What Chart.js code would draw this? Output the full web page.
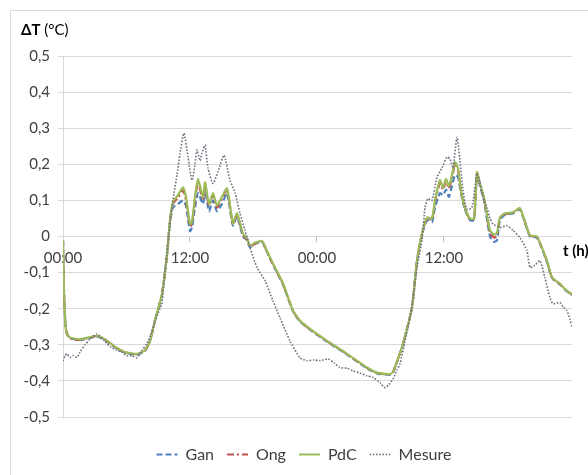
<!DOCTYPE html>
<html>
<head>
<meta charset="utf-8">
<script src="https://cdn.jsdelivr.net/npm/chart.js@4"></script>
<style>
  html, body { margin: 0; padding: 0; background: #fff; overflow: hidden; }
  #frame { position: absolute; left: 10px; top: 10px; width: 640px; height: 540px; border: 1px solid #d9d9d9; }
  #wrap { position: absolute; left: 0; top: 0; width: 588px; height: 475px; }
</style>
</head>
<body>
<div id="frame"></div>
<div id="wrap"><canvas id="dtChart"></canvas></div>
<script>
// time in hours from the first 00:00
const tModel = [0, 0.09, 0.24, 0.38, 0.66, 1.13, 1.61, 2.36, 3.21, 3.97,
  4.91, 5.86, 6.99, 7.75, 8.22, 8.69, 9.35, 9.83, 10.11, 10.39,
  10.87, 11.34, 11.62, 12.00, 12.19, 12.47, 12.76, 13.23, 13.42, 13.80,
  14.17, 14.55, 15.02, 15.50, 16.06, 16.44, 17.01, 17.39, 17.67, 18.14,
  18.80, 19.28, 19.84, 20.79, 21.73, 22.39, 23.34, 24.95, 26.84, 28.72,
  29.67, 30.90, 31.18, 31.65, 32.13, 32.98, 33.45, 33.92, 34.40, 34.87,
  35.15, 35.62, 35.91, 36.19, 36.47, 36.76, 37.04, 37.32, 37.61, 37.98,
  38.46, 38.84, 39.12, 39.40, 39.78, 40.35, 40.73, 41.01, 41.29, 41.76,
  42.52, 43.18, 44.13, 44.79, 45.73, 46.21, 46.96, 47.53, 48.10];

const gan = [-0.01, -0.15, -0.25, -0.27, -0.28, -0.285, -0.287, -0.282, -0.277, -0.287,
  -0.307, -0.322, -0.327, -0.317, -0.29, -0.233, -0.16, -0.05, 0.04, 0.08,
  0.09, 0.10, 0.085, 0.015, 0.025, 0.08, 0.12, 0.09, 0.13, 0.07,
  0.10, 0.07, 0.09, 0.12, 0.03, 0.055, 0.0, -0.01, -0.03, -0.02,
  -0.015, -0.043, -0.078, -0.133, -0.207, -0.235, -0.258, -0.291, -0.327, -0.365,
  -0.379, -0.383, -0.377, -0.34, -0.297, -0.197, -0.067, 0.005, 0.045, 0.04,
  0.08, 0.12, 0.115, 0.13, 0.11, 0.14, 0.17, 0.165, 0.12, 0.075,
  0.045, 0.045, 0.165, 0.14, 0.1, 0.0, -0.015, -0.01, 0.045, 0.06,
  0.064, 0.075, 0.0, -0.003, -0.07, -0.115, -0.133, -0.15, -0.162];

const ong = [-0.01, -0.15, -0.25, -0.27, -0.282, -0.286, -0.286, -0.281, -0.276, -0.286,
  -0.306, -0.321, -0.326, -0.316, -0.29, -0.233, -0.16, -0.05, 0.043, 0.09,
  0.108, 0.128, 0.1, 0.028, 0.035, 0.1, 0.15, 0.1, 0.145, 0.085,
  0.115, 0.08, 0.105, 0.13, 0.034, 0.06, 0.005, -0.008, -0.028, -0.02,
  -0.014, -0.042, -0.077, -0.132, -0.206, -0.234, -0.257, -0.29, -0.326, -0.364,
  -0.378, -0.382, -0.376, -0.34, -0.297, -0.197, -0.067, 0.007, 0.05, 0.047,
  0.095, 0.148, 0.13, 0.153, 0.133, 0.163, 0.2, 0.185, 0.125, 0.078,
  0.048, 0.048, 0.175, 0.145, 0.105, 0.01, -0.003, 0.003, 0.05, 0.062,
  0.066, 0.077, 0.002, -0.001, -0.068, -0.114, -0.132, -0.149, -0.161];

const pdc = [-0.01, -0.15, -0.25, -0.27, -0.28, -0.283, -0.285, -0.28, -0.275, -0.285,
  -0.305, -0.32, -0.325, -0.315, -0.29, -0.233, -0.16, -0.05, 0.045, 0.095,
  0.115, 0.136, 0.11, 0.035, 0.04, 0.11, 0.16, 0.108, 0.15, 0.09,
  0.12, 0.086, 0.11, 0.133, 0.036, 0.064, 0.008, -0.005, -0.025, -0.017,
  -0.012, -0.04, -0.075, -0.13, -0.205, -0.233, -0.256, -0.289, -0.325, -0.363,
  -0.377, -0.381, -0.375, -0.34, -0.297, -0.197, -0.067, 0.008, 0.053, 0.05,
  0.1, 0.156, 0.135, 0.16, 0.14, 0.17, 0.206, 0.19, 0.128, 0.08,
  0.05, 0.05, 0.178, 0.147, 0.108, 0.017, 0.005, 0.01, 0.053, 0.064,
  0.067, 0.078, 0.003, 0.0, -0.067, -0.113, -0.131, -0.148, -0.16];

const tMesure = [0, 0.19, 0.38, 0.66, 0.94, 1.32, 1.61, 2.08, 2.55, 3.21,
  3.78, 4.44, 5.10, 5.57, 6.05, 6.52, 6.99, 7.46, 7.94, 8.32,
  8.69, 9.16, 9.35, 9.64, 9.92, 10.20, 10.49, 10.77, 11.06, 11.43,
  11.81, 12.19, 12.47, 12.66, 12.95, 13.13, 13.42, 13.70, 14.17, 14.65,
  15.21, 15.78, 16.25, 16.73, 17.20, 17.67, 18.33, 19.09, 19.84, 20.50,
  21.45, 22.39, 23.06, 23.72, 24.28, 25.04, 25.61, 26.17, 26.84, 27.40,
  28.06, 28.72, 29.29, 29.95, 30.43, 30.80, 31.18, 31.56, 31.84, 32.32,
  32.79, 33.17, 33.45, 33.92, 34.21, 34.49, 34.87, 35.34, 35.81, 36.28,
  36.57, 36.85, 37.23, 37.51, 37.80, 38.17, 38.65, 39.12, 39.40, 39.69,
  40.06, 40.35, 40.63, 41.29, 41.95, 42.52, 43.18, 43.84, 44.13, 44.60,
  45.07, 45.54, 46.02, 46.30, 46.96, 47.25, 47.63, 47.91, 48.10];

const mesure = [-0.345, -0.33, -0.325, -0.335, -0.33, -0.335, -0.32, -0.30, -0.285, -0.27,
  -0.285, -0.305, -0.315, -0.32, -0.33, -0.33, -0.336, -0.315, -0.297, -0.27,
  -0.235, -0.20, -0.186, -0.094, -0.02, 0.06, 0.12, 0.17, 0.23, 0.286,
  0.22, 0.156, 0.20, 0.24, 0.21, 0.23, 0.253, 0.19, 0.147, 0.18,
  0.225, 0.156, 0.122, 0.064, 0.017, -0.03, -0.086, -0.122, -0.178, -0.225,
  -0.289, -0.336, -0.344, -0.342, -0.344, -0.339, -0.35, -0.363, -0.365, -0.372,
  -0.378, -0.386, -0.39, -0.405, -0.419, -0.41, -0.395, -0.37, -0.353, -0.29,
  -0.225, -0.15, -0.086, -0.011, 0.08, 0.105, 0.10, 0.164, 0.19, 0.22,
  0.215, 0.19, 0.275, 0.21, 0.128, 0.075, 0.08, 0.175, 0.15, 0.11,
  0.08, 0.05, 0.035, 0.025, 0.03, 0.017, -0.003, -0.039, -0.086, -0.08,
  -0.067, -0.114, -0.17, -0.186, -0.183, -0.195, -0.206, -0.23, -0.25];

const xTickValues = [0, 12, 24, 36];
const xTickLabels = ['00:00', '12:00', '00:00', '12:00'];

const pts = (ts, vs) => ts.map((t, i) => ({ x: t, y: vs[i] }));

const FONT = 'Lato';
const TXT = '#404040';

// axis titles, Excel-style: "ΔT (°C)" top-left, "t (h)" at the right end of the 0 line
const axisTitles = {
  id: 'axisTitles',
  afterLayout(chart) {
    // the original legend is centred on a wider frame than the visible crop
    chart.legend.left += 18;
    chart.legend.right += 18;
  },
  afterDraw(chart) {
    const { ctx, chartArea, scales } = chart;
    ctx.save();
    ctx.fillStyle = '#000';
    ctx.textBaseline = 'alphabetic';
    ctx.textAlign = 'left';
    const x0 = chartArea.left - 42, y0 = chartArea.top - 21;
    ctx.font = 'bold 15px ' + FONT;
    ctx.fillText('ΔT', x0, y0);
    const w = ctx.measureText('ΔT').width;
    ctx.font = '15px ' + FONT;
    ctx.fillText(' (°C)', x0 + w, y0);
    ctx.font = 'bold 15px ' + FONT;
    ctx.fillText('t (h)', chartArea.right - 9, scales.y.getPixelForValue(0) + 19);
    ctx.restore();
  }
};

new Chart(document.getElementById('dtChart'), {
  type: 'line',
  data: {
    datasets: [
      { label: 'Gan', data: pts(tModel, gan), borderColor: '#4f81bd', borderWidth: 2.2, borderDash: [6, 3], order: 4 },
      { label: 'Ong', data: pts(tModel, ong), borderColor: '#c0504d', borderWidth: 2.2, borderDash: [7, 3, 2, 3], order: 3 },
      { label: 'PdC', data: pts(tModel, pdc), borderColor: '#9bbb59', borderWidth: 2.2, order: 2 },
      { label: 'Mesure', data: pts(tMesure, mesure), borderColor: '#6f6f7f', borderWidth: 1.6, borderDash: [1.6, 1.6], order: 1 },
    ],
  },
  options: {
    responsive: true, maintainAspectRatio: false, animation: false,
    devicePixelRatio: 1,
    elements: { point: { radius: 0 }, line: { tension: 0.2 } },
    layout: { padding: { left: 0, top: 56, right: 16, bottom: 2.5 } },
    scales: {
      x: {
        type: 'linear', min: 0, max: 48.1,
        position: { y: 0 },
        afterBuildTicks: s => { s.ticks = xTickValues.map(v => ({ value: v })); },
        ticks: {
          font: { family: FONT, size: 15 }, color: TXT, padding: 8, maxRotation: 0,
          callback: v => xTickLabels[xTickValues.indexOf(v)],
        },
        grid: { drawOnChartArea: false, tickLength: 5, color: '#bfbfbf' },
        border: { display: false },
      },
      y: {
        min: -0.5, max: 0.5,
        afterFit: s => { s.width = 63; },
        ticks: {
          stepSize: 0.1, font: { family: FONT, size: 15 }, color: TXT, padding: 8,
          callback: v => String(Math.round(v * 10) / 10).replace('.', ','),
        },
        grid: { color: '#d9d9d9', tickLength: 5 },
        border: { color: '#d9d9d9' },
      },
    },
    plugins: {
      tooltip: { enabled: false },
      legend: {
        position: 'bottom',
        title: { display: true, text: '', font: { size: 10, lineHeight: 1 }, padding: { top: 0, bottom: 6.5 } },
        labels: {
          font: { family: FONT, size: 16 }, color: TXT,
          usePointStyle: true, pointStyle: 'line', pointStyleWidth: 21, padding: 13,
          sort: (a, b) => a.datasetIndex - b.datasetIndex,
          generateLabels: chart => Chart.defaults.plugins.legend.labels.generateLabels(chart).map(l => {
            const ds = chart.data.datasets[l.datasetIndex];
            return { ...l, lineDash: ds.borderDash || [], lineWidth: ds.borderWidth, strokeStyle: ds.borderColor };
          }),
        },
      },
    },
  },
  plugins: [axisTitles],
});
</script>
</body>
</html>
